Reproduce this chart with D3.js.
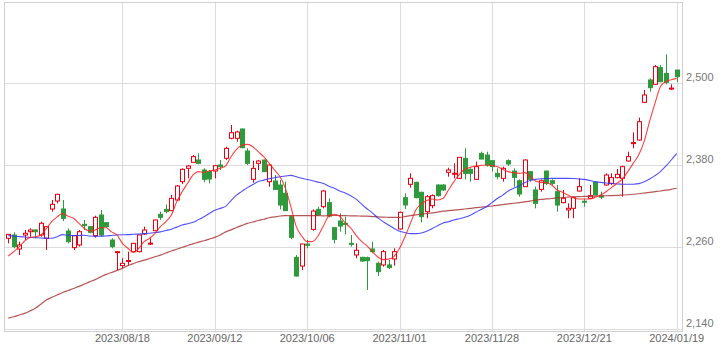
<!DOCTYPE html>
<html><head><meta charset="utf-8">
<script src="https://cdn.jsdelivr.net/npm/d3@7"></script>
<style>body{margin:0;background:#fff}svg{display:block}</style>
</head><body><svg id="c" width="721" height="353"></svg>
<script>
const dates = ["2023/07/19","2023/07/20","2023/07/21","2023/07/24","2023/07/25","2023/07/26","2023/07/27","2023/07/28","2023/07/31",
"2023/08/01","2023/08/02","2023/08/03","2023/08/04","2023/08/07","2023/08/08","2023/08/09","2023/08/10","2023/08/14","2023/08/15","2023/08/16","2023/08/17","2023/08/18",
"2023/08/21","2023/08/22","2023/08/23","2023/08/24","2023/08/25","2023/08/28","2023/08/29","2023/08/30","2023/08/31",
"2023/09/01","2023/09/04","2023/09/05","2023/09/06","2023/09/07","2023/09/08","2023/09/11","2023/09/12","2023/09/13","2023/09/14","2023/09/15",
"2023/09/19","2023/09/20","2023/09/21","2023/09/22","2023/09/25","2023/09/26","2023/09/27","2023/09/28","2023/09/29",
"2023/10/02","2023/10/03","2023/10/04","2023/10/05","2023/10/06","2023/10/10","2023/10/11","2023/10/12","2023/10/13",
"2023/10/16","2023/10/17","2023/10/18","2023/10/19","2023/10/20","2023/10/23","2023/10/24","2023/10/25","2023/10/26","2023/10/27","2023/10/30","2023/10/31",
"2023/11/01","2023/11/02","2023/11/06","2023/11/07","2023/11/08","2023/11/09","2023/11/10","2023/11/13","2023/11/14","2023/11/15","2023/11/16","2023/11/17",
"2023/11/20","2023/11/21","2023/11/22","2023/11/24","2023/11/27","2023/11/28","2023/11/29","2023/11/30",
"2023/12/01","2023/12/04","2023/12/05","2023/12/06","2023/12/07","2023/12/08","2023/12/11","2023/12/12","2023/12/13","2023/12/14","2023/12/15",
"2023/12/18","2023/12/19","2023/12/20","2023/12/21","2023/12/22","2023/12/25","2023/12/26","2023/12/27","2023/12/28","2023/12/29",
"2024/01/04","2024/01/05","2024/01/09","2024/01/10","2024/01/11","2024/01/12","2024/01/15","2024/01/16","2024/01/17","2024/01/18","2024/01/19"];

const opens = [2272.6,2277.4,2256.9,2277.4,2282.3,2284.8,2277.5,2272.6,2315.6,2327.3,2315.6,2283.3,2258.9,2262.8,2293.1,2289.7,2276.5,2306.8,2295.5,2270.1,
2252,2232.5,2239,2253,2253,2278.9,2264,2283.8,2307.8,2315.1,2313.2,2328.8,2355.7,2375.3,2384.1,2387.5,2372.8,2370.4,2371.4,2380.2,
2390,2419.3,2419.3,2433,2400.7,2359.1,2382.6,2387.5,2355.7,2356.7,2350.8,2338.6,2304.3,2244.7,2231.9,2264.2,2285.7,2315.1,2319,2324.9,
2288.2,2298,2294.6,2265.2,2248.1,2244.7,2244.2,2256.9,2235.9,2233.5,2233.5,2242.3,2286.3,2332.2,2351.8,2354.7,2340.1,2311.7,2320.5,2350.8,
2350.8,2369.4,2367.4,2360.6,2389.9,2373.8,2359.1,2397.2,2394.8,2386.5,2367.9,2360.6,2386.5,2371.3,2357.1,2348.3,2370.4,2343.5,2344.4,2371.3,
2357.1,2341,2324.9,2314.2,2316.6,2342,2327,2331.3,2354.7,2334.5,2350.8,2353.3,2361.6,2360.6,2386,2412,2416.8,2472.1,2504.9,2498.5,
2523,2514.6,2492,2519.5];
const highs = [2279,2281.4,2267.7,2284.8,2287.2,2286,2297,2290.5,2328.8,2338,2328.8,2287.2,2277.4,2284.8,2299.5,2290.5,2305.8,2314.1,2296,2272.6,
2254,2243.2,2253,2266,2278,2289.7,2272.6,2300,2311.7,2322.4,2336.1,2350.8,2375.3,2380.2,2394.8,2397.3,2375.3,2372.8,2380.2,2387.5,
2407,2438.8,2430.5,2433.5,2404.6,2386.5,2387.5,2388,2381,2365.5,2358.1,2355.7,2306.8,2248.1,2264.5,2270.1,2315.1,2319,2343.5,2331.2,
2288.5,2309.2,2304.4,2277.5,2265.2,2245.5,2245.7,2267.7,2238.4,2255.5,2240.8,2257.9,2311.7,2338.6,2367.9,2355.7,2341,2336.1,2337.1,2351.8,
2351.8,2376.2,2382.6,2391.5,2404.6,2375.3,2385,2399.7,2399.7,2387,2375.3,2377.7,2388.5,2375.2,2359.1,2388.5,2370.5,2348.3,2359.1,2371.5,
2359.1,2350.8,2343.5,2323.9,2333.7,2360.6,2330.3,2350.8,2355.7,2341,2368,2368,2374.3,2379.2,2399.7,2428.1,2449.6,2490.2,2507.3,2526.9,
2526.9,2542.5,2498.5,2519.5];
const lows = [2265.2,2258,2248.1,2270.1,2275,2272.6,2275,2255.5,2311.7,2323.9,2298,2265.2,2255.5,2260.4,2284.8,2279.9,2273.5,2275,2288.2,2257.9,
2226,2228.6,2233.5,2252,2252,2277.5,2262.8,2283,2299.5,2309.3,2313,2327.3,2352.3,2360.6,2384,2381.1,2354.7,2353.3,2360.6,2372.8,
2387.5,2417.9,2414.3,2404.6,2380.2,2354.2,2372.8,2370,2348.3,2343.5,2315.1,2313,2271.1,2216.3,2226.1,2257.9,2283.8,2306,2316.6,2303.4,
2265.2,2282.3,2278.4,2260.4,2243.2,2238,2196.8,2250.6,2217.3,2231,2227.6,2232.5,2285.3,2315.6,2346.9,2331.2,2296,2301.9,2316.6,2333.7,
2342,2363,2360.6,2359.6,2359.1,2355.7,2359,2388.5,2377.7,2370.4,2359.1,2355.7,2378.7,2348.3,2333.7,2348,2355.7,2316.6,2341,2350.8,
2350.8,2311.7,2323.9,2302,2302,2341,2319,2330.3,2336,2330.3,2349.8,2350.8,2360.6,2333.7,2385,2404.6,2415.9,2472,2487.7,2497.5,
2501.4,2498.5,2490.2,2501.4];
const closes = [2278.4,2260.4,2262.8,2280,2284.8,2282.3,2294.6,2289.7,2322.4,2337.1,2301.9,2267.7,2276.5,2282.3,2291.1,2281.4,2303.4,2277.5,2289.7,2260.4,
2253,2235.9,2240,2265.2,2277.5,2284.8,2265.5,2299.5,2303.4,2311.7,2331.2,2349.3,2373.8,2378.7,2392.4,2382.6,2359.1,2359.6,2379.2,2377.7,
2404.6,2427.5,2428.6,2405.6,2382.6,2375.2,2386,2370.4,2380.1,2344.4,2321.4,2313.2,2274,2217.3,2264.2,2262.3,2312.6,2306.8,2342,2305.3,
2271.1,2290.6,2293.1,2263.8,2255,2239.3,2239.8,2253,2223.7,2253,2229.6,2253,2310.7,2321.5,2360.6,2332.2,2304.4,2333.7,2335.2,2335.2,
2343.5,2372.8,2368,2391.4,2367.9,2367.9,2377.7,2388.9,2380.1,2377.7,2363,2375.3,2381.6,2362,2337.6,2387.5,2359.1,2323.9,2357.1,2353.2,
2353.2,2321.4,2331.2,2316.6,2332.2,2348.4,2326.2,2335.2,2336.1,2333.7,2365.5,2361.6,2366.5,2377.7,2392.4,2413,2443.7,2482.9,2493.6,2524.4,
2502.4,2501.4,2493,2509.7];

const maShort = [2246.6,2253,2260,2268.6,2274,2275,2277.5,2287,2297,2304,2309,2305,2302,2294.6,2287,2283.3,2284.8,2288,2288,2282,
2277.5,2265.2,2258,2252,2258,2267.7,2272.6,2280,2289.7,2297,2306.8,2326.4,2341,2353.3,2365.5,2370.4,2369.4,2371.3,2372.8,2375.3,
2379,2392.3,2403,2409.5,2410.4,2407,2399.7,2392.3,2382.6,2372.8,2363,2345.9,2319,2289.7,2276,2267.7,2268,2276,2291,2305.4,
2308,2305,2295.3,2287.7,2277,2268.2,2261.6,2253,2245.2,2241.3,2242,2246.2,2258,2275,2294.6,2314.2,2323,2328,2330.3,2328.8,
2331.3,2343.5,2355.7,2366.4,2373.8,2376.7,2378.7,2379.6,2380.1,2379.2,2377.7,2373.8,2370.4,2368.9,2367.9,2368.9,2364,2356.7,2354.7,2354.2,
2350.8,2343.5,2340,2336,2332.2,2330.3,2330.3,2330.3,2332.7,2336.1,2341,2346.9,2353.3,2359.6,2370.4,2382.6,2394.8,2414.4,2443.7,2470.6,
2495.1,2502.4,2505.3,2507.3];
const maMid = [2276.5,2276,2275,2274.5,2274,2273.5,2273,2272.8,2272.6,2275,2278,2277,2276.5,2276.8,2277,2276,2275.5,2275.8,2276,2276.8,
2277.5,2277.8,2278,2278.5,2279,2279.5,2280,2281,2282,2284,2286,2289,2292,2294,2296,2300,2304.3,2309,2313.6,2316.5,
2319.5,2328,2336,2341.5,2347,2351.5,2356,2358,2360,2361.5,2363,2364,2365,2363,2360.6,2359,2357,2355,2353,2349,
2346,2342,2339,2335,2330,2323,2316,2310,2302.5,2297,2292,2287,2283,2281,2279.5,2279.5,2280.5,2283,2287,2291,
2295,2297,2299.4,2301.4,2303.4,2306.5,2310.7,2315,2319,2325,2331,2336,2342,2346,2349.5,2354,2357.5,2359,2360,2360.3,
2360.6,2360.6,2360.6,2360.6,2360.3,2359.6,2359,2357.4,2355.7,2354.7,2353.7,2353,2352.3,2352,2351.8,2352,2352.8,2355.5,2359.6,2364.5,
2370.4,2378.5,2387.5,2397.3];
const maLong = [2155.5,2157.5,2160,2162.5,2166,2170,2176,2182,2186,2189.5,2193,2196,2199,2202,2205.5,2209,2212,2216,2219.7,2222.5,
2225.6,2228.5,2232.5,2235.5,2238.3,2240.5,2243,2245.5,2248,2251,2254,2256.5,2259.5,2262,2264.5,2267,2269,2271.5,2274,2277.5,
2282,2285,2288.5,2291.5,2294.5,2296.5,2298.7,2300.5,2302.8,2304,2305.3,2305.8,2306,2306,2305.8,2305.8,2306,2305.8,2305.5,2305.8,
2306.2,2306,2305.8,2305.6,2305.4,2305.2,2305,2304.5,2304,2303.6,2303.4,2303.2,2303.4,2304.5,2306,2307,2308,2309,2310,2311,
2312.4,2313.2,2314,2314.8,2315.6,2316.5,2317.5,2318.2,2319,2320,2321,2322,2323,2324,2325,2326,2327.2,2328.5,2329.8,2330.4,
2331,2331.8,2332.5,2333,2333.5,2333.8,2334,2334.2,2334.5,2334.8,2335,2335.2,2335.5,2336,2336.5,2337.2,2338,2339,2340,2341,
2342,2343.2,2344.5,2346];

const xTickLabels = ["2023/08/18","2023/09/12","2023/10/06","2023/11/01","2023/11/28","2023/12/21","2024/01/19"];
const yTicks = [2140,2260,2380,2500];

const svg = d3.select("#c");
const L = 4, R = 682, T = 2, B = 331;
const x = d3.scalePoint().domain(dates).range([8.3, 676.7]);
const y = d3.scaleLinear().domain([2136.6, 2619.3]).range([B, T]);

// grid
const g = svg.append("g");
g.selectAll(".hg").data(yTicks).join("line")
  .attr("x1", L).attr("x2", R).attr("y1", d => Math.round(y(d)) + 0.5).attr("y2", d => Math.round(y(d)) + 0.5)
  .attr("stroke", "#dcdcdc").attr("stroke-width", 1);
g.selectAll(".vg").data(xTickLabels).join("line")
  .attr("y1", T).attr("y2", B).attr("x1", d => Math.round(x(d)) + 0.5).attr("x2", d => Math.round(x(d)) + 0.5)
  .attr("stroke", "#dcdcdc").attr("stroke-width", 1);
svg.append("rect").attr("x", L + 0.5).attr("y", T + 0.5).attr("width", R - L).attr("height", B - T)
  .attr("fill", "none").attr("stroke", "#d0d0d0");

// candles
const idx = d3.range(dates.length);
const bw = 4;
const up = "#e60012", down = "#2f9a3c";
const cg = svg.append("g");
cg.selectAll(".wick").data(idx).join("line")
  .attr("x1", i => Math.round(x(dates[i])) + 0.5).attr("x2", i => Math.round(x(dates[i])) + 0.5)
  .attr("y1", i => y(highs[i])).attr("y2", i => y(lows[i]))
  .attr("stroke", i => closes[i] >= opens[i] ? up : down).attr("stroke-width", 1);
cg.selectAll(".body").data(idx).join("rect")
  .attr("x", i => Math.round(x(dates[i])) - bw / 2 + 0.5)
  .attr("width", bw)
  .attr("y", i => y(Math.max(opens[i], closes[i])))
  .attr("height", i => Math.max(1, Math.abs(y(opens[i]) - y(closes[i]))))
  .attr("fill", i => closes[i] >= opens[i] ? "#fff" : down)
  .attr("stroke", i => closes[i] >= opens[i] ? up : down)
  .attr("stroke-width", 1);

// moving averages
const line = arr => d3.line().x((d, i) => x(dates[i])).y(d => y(d)).curve(d3.curveMonotoneX)(arr);
svg.append("path").attr("d", line(maLong)).attr("fill", "none").attr("stroke", "#a52a2a").attr("stroke-opacity", 0.8).attr("stroke-width", 1.2);
svg.append("path").attr("d", line(maMid)).attr("fill", "none").attr("stroke", "#3030ff").attr("stroke-opacity", 0.85).attr("stroke-width", 1.1);
svg.append("path").attr("d", line(maShort)).attr("fill", "none").attr("stroke", "#ff2020").attr("stroke-opacity", 0.85).attr("stroke-width", 1.1);

// axes labels
const font = "'Liberation Sans', Arial, sans-serif";
svg.selectAll(".yl").data(yTicks).join("text")
  .attr("x", 686).attr("y", d => y(d) - 2)
  .attr("font-family", font).attr("font-size", 11).attr("fill", "#777")
  .text(d3.format(","));
svg.selectAll(".xl").data(xTickLabels).join("text")
  .attr("x", d => x(d)).attr("y", 342).attr("text-anchor", "middle")
  .attr("font-family", font).attr("font-size", 11).attr("fill", "#666")
  .text(d => d);
</script></body></html>
